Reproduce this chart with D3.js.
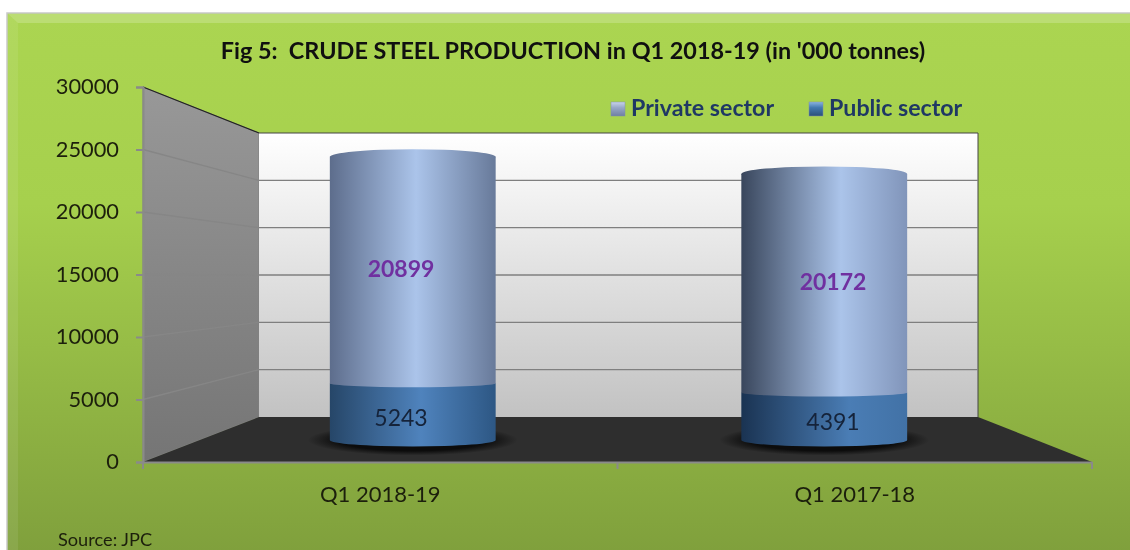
<!DOCTYPE html>
<html>
<head>
<meta charset="utf-8">
<script src="https://cdn.jsdelivr.net/npm/d3@7"></script>
<style>
  html, body { margin: 0; padding: 0; background: #fff; }
  svg { display: block; filter: blur(0.4px); }
  text { font-family: Lato, "Open Sans", sans-serif; }
</style>
</head>
<body>
<svg id="chart" width="1130" height="550"></svg>
<script>
// data
const categories = ["Q1 2018-19", "Q1 2017-18"];
const publicSector = [5243, 4391];
const privateSector = [20899, 20172];
const seriesNames = ["Private sector", "Public sector"];
const yTicks = [0, 5000, 10000, 15000, 20000, 25000, 30000];
const titleText = "Fig 5:  CRUDE STEEL PRODUCTION in Q1 2018-19 (in '000 tonnes)";
const sourceText = "Source: JPC";

const svg = d3.select("#chart");
const defs = svg.append("defs");

function gradient(id, x2, y2, stops) {
  const g = defs.append("linearGradient").attr("id", id)
    .attr("x1", 0).attr("y1", 0).attr("x2", x2).attr("y2", y2);
  stops.forEach(s => g.append("stop").attr("offset", s[0]).attr("stop-color", s[1]));
}

gradient("bg", 0, 1, [[0, "#abd551"], [0.35, "#a6d04d"], [1, "#7f9f3c"]]);
gradient("sideWall", 0, 1, [[0, "#989898"], [1, "#757575"]]);
gradient("backWall", 0, 1, [[0, "#ffffff"], [1, "#c2c2c2"]]);
// lighting differs a bit between the left and right cylinder
gradient("private0", 1, 0, [[0, "#5d6d8c"], [0.52, "#abc4ea"], [1, "#687a9a"]]);
gradient("private1", 1, 0, [[0, "#39465c"], [0.6, "#abc4ea"], [1, "#8195ba"]]);
gradient("public0", 1, 0, [[0, "#264668"], [0.55, "#4f83bd"], [1, "#2d5784"]]);
gradient("public1", 1, 0, [[0, "#1a3352"], [0.65, "#4a7db5"], [1, "#4272a6"]]);
gradient("keyPrivate", 0, 1, [[0, "#c8d4ea"], [0.4, "#98a8c8"], [1, "#6f7fa3"]]);
gradient("keyPublic", 0, 1, [[0, "#8ab4e0"], [0.4, "#4379b0"], [1, "#2a5078"]]);
const shadow = defs.append("radialGradient").attr("id", "floorShadow");
shadow.append("stop").attr("offset", 0.7).attr("stop-color", "#0c0c0c");
shadow.append("stop").attr("offset", 1).attr("stop-color", "#2e2e2e");

// panel
svg.append("rect").attr("x", 7).attr("y", 13).attr("width", 1130).attr("height", 545)
  .attr("fill", "url(#bg)").attr("stroke", "#c9c9c9").attr("stroke-width", 1.5);
svg.append("path").attr("d", "M8,14 H1130 V23 H18 L8,14 Z").attr("fill", "#fff").attr("opacity", 0.2);
svg.append("path").attr("d", "M8,14 L18,23 V550 H8 Z").attr("fill", "#fff").attr("opacity", 0.08);

// scales: front edge of the box, back wall, and the plane the cylinders stand on
const yFront = d3.scaleLinear().domain([0, 30000]).range([462, 87]);
const yBack = d3.scaleLinear().domain([0, 30000]).range([417, 133]);
const yCyl = d3.scaleLinear().domain([0, 30000]).range([440, 115]);
const xFront = d3.scaleBand().domain(categories).range([143, 1092]);
const xCyl = d3.scaleBand().domain(categories).range([207, 1030]);
const xLabel = d3.scalePoint().domain(categories).range([401, 833]);
const backLeft = 259, backRight = 978;
const [frontLeft, frontRight] = xFront.range();
const yMax = yTicks[yTicks.length - 1];

// walls and floor
svg.append("polygon")
  .attr("points", [[frontLeft, yFront(0)], [frontLeft, yFront(yMax)], [backLeft, yBack(yMax)], [backLeft, yBack(0)]].join(" "))
  .attr("fill", "url(#sideWall)").attr("stroke", "#808080");
svg.append("line").attr("x1", frontLeft).attr("y1", yFront(yMax)).attr("x2", backLeft).attr("y2", yBack(yMax))
  .attr("stroke", "#222").attr("stroke-width", 1.2);
svg.append("rect").attr("x", backLeft).attr("y", yBack(yMax))
  .attr("width", backRight - backLeft).attr("height", yBack(0) - yBack(yMax))
  .attr("fill", "url(#backWall)");
svg.append("polyline").attr("fill", "none").attr("stroke", "#444").attr("stroke-width", 1)
  .attr("points", [[backLeft, yBack(yMax)], [backRight, yBack(yMax)], [backRight, yBack(0)]].join(" "));
svg.append("polygon")
  .attr("points", [[frontLeft, yFront(0)], [backLeft, yBack(0)], [backRight, yBack(0)], [frontRight, yFront(0)]].join(" "))
  .attr("fill", "#2e2e2e");

// gridlines, wrap from the side wall onto the back wall
yTicks.filter(d => d > 0 && d < yMax).forEach(d => {
  svg.append("line").attr("stroke", "#868686").attr("stroke-width", 1.3)
    .attr("x1", frontLeft).attr("y1", yFront(d)).attr("x2", backLeft).attr("y2", yBack(d));
  svg.append("line").attr("stroke", "#7f7f7f").attr("stroke-width", 1.3)
    .attr("x1", backLeft).attr("y1", yBack(d)).attr("x2", backRight).attr("y2", yBack(d));
});

// axes
const yAxis = svg.append("g").attr("transform", `translate(${frontLeft},0)`)
  .call(d3.axisLeft(yFront).tickValues(yTicks).tickFormat(d3.format("d")).tickSize(7).tickPadding(17));
const xAxis = svg.append("g").attr("transform", `translate(0,${yFront(0)})`)
  .call(d3.axisBottom(xFront).tickSize(0).tickPadding(24));
[yAxis, xAxis].forEach(a => {
  a.selectAll(".domain").attr("stroke", "#8a8a8a").attr("stroke-width", 2);
  a.selectAll(".tick line").attr("stroke", "#8a8a8a").attr("stroke-width", 2);
  a.selectAll("text").attr("fill", "#1c1f0c").style("font-size", "21.8px");
});
xAxis.selectAll("text").style("font-size", "22px");
xAxis.selectAll(".boundary").data([frontLeft, xFront(categories[1]), frontRight]).join("line")
  .attr("x1", d => d).attr("x2", d => d).attr("y1", 0).attr("y2", 7)
  .attr("stroke", "#8a8a8a").attr("stroke-width", 2);

// cylinders
const stackData = categories.map((c, i) => ({ category: c, publicSector: publicSector[i], privateSector: privateSector[i] }));
const stacked = d3.stack().keys(["publicSector", "privateSector"])(stackData);
const cylWidth = xCyl.bandwidth() * 0.403;
const rx = cylWidth / 2, ryTop = 7.5, ryBase = 6.5, rySeam = 4;

function cx(c) { return xCyl(c) + xCyl.bandwidth() / 2; }
// flat top edge, the layer or cap drawn after it covers the join
function bodyPath(c, v0, v1, ry0) {
  const l = cx(c) - rx, r = cx(c) + rx;
  return `M${l},${yCyl(v1)} L${l},${yCyl(v0)} A${rx},${ry0} 0 0 0 ${r},${yCyl(v0)} L${r},${yCyl(v1)} Z`;
}

svg.append("g").selectAll("ellipse").data(categories).join("ellipse")
  .attr("cx", cx).attr("cy", yCyl(0))
  .attr("rx", rx + 22).attr("ry", ryBase + 9)
  .attr("fill", "url(#floorShadow)");

const prefix = { publicSector: "public", privateSector: "private" };
stacked.forEach(layer => {
  svg.append("g").selectAll("path").data(layer).join("path")
    .attr("d", d => bodyPath(d.data.category, d[0], d[1], layer.key === "publicSector" ? ryBase : rySeam))
    .attr("fill", (d, i) => `url(#${prefix[layer.key]}${i})`);
});
svg.append("g").selectAll("ellipse").data(stacked[1]).join("ellipse")
  .attr("cx", d => cx(d.data.category)).attr("cy", d => yCyl(d[1]))
  .attr("rx", rx).attr("ry", ryTop)
  .attr("fill", (d, i) => `url(#private${i})`);

// value labels
svg.append("g").selectAll("text").data(stacked[0]).join("text")
  .attr("x", d => xLabel(d.data.category)).attr("y", d => (yCyl(d[0]) + yCyl(d[1])) / 2 + 6)
  .attr("dy", "0.35em").attr("text-anchor", "middle")
  .attr("fill", "#15233a").style("font-size", "23px")
  .text(d => d[1] - d[0]);
svg.append("g").selectAll("text").data(stacked[1]).join("text")
  .attr("x", d => xLabel(d.data.category)).attr("y", d => (yCyl(d[0]) + yCyl(d[1])) / 2 - 1)
  .attr("dy", "0.35em").attr("text-anchor", "middle")
  .attr("fill", "#7030a0").style("font-size", "23px").style("font-weight", 700)
  .text(d => d[1] - d[0]);

// title
svg.append("text").attr("x", 573).attr("y", 59).attr("text-anchor", "middle")
  .attr("fill", "#101010").attr("xml:space", "preserve")
  .style("font-size", "23.4px").style("font-weight", 700).style("white-space", "pre")
  .text(titleText);

// legend
const legendX = d3.scaleOrdinal().domain(seriesNames).range([611, 809]);
const legendFill = d3.scaleOrdinal().domain(seriesNames).range(["url(#keyPrivate)", "url(#keyPublic)"]);
const legend = svg.append("g").selectAll("g").data(seriesNames).join("g")
  .attr("transform", d => `translate(${legendX(d)},102)`);
legend.append("rect").attr("width", 14).attr("height", 14)
  .attr("fill", d => legendFill(d)).attr("stroke", "#7f8fa8").attr("stroke-width", 0.5);
legend.append("text").attr("x", 20).attr("y", 14)
  .attr("fill", "#1f3864").style("font-size", "23.2px").style("font-weight", 700)
  .text(d => d);

// source
svg.append("text").attr("x", 58).attr("y", 546)
  .attr("fill", "#1c1f0c").style("font-size", "18.2px")
  .text(sourceText);
</script>
</body>
</html>
